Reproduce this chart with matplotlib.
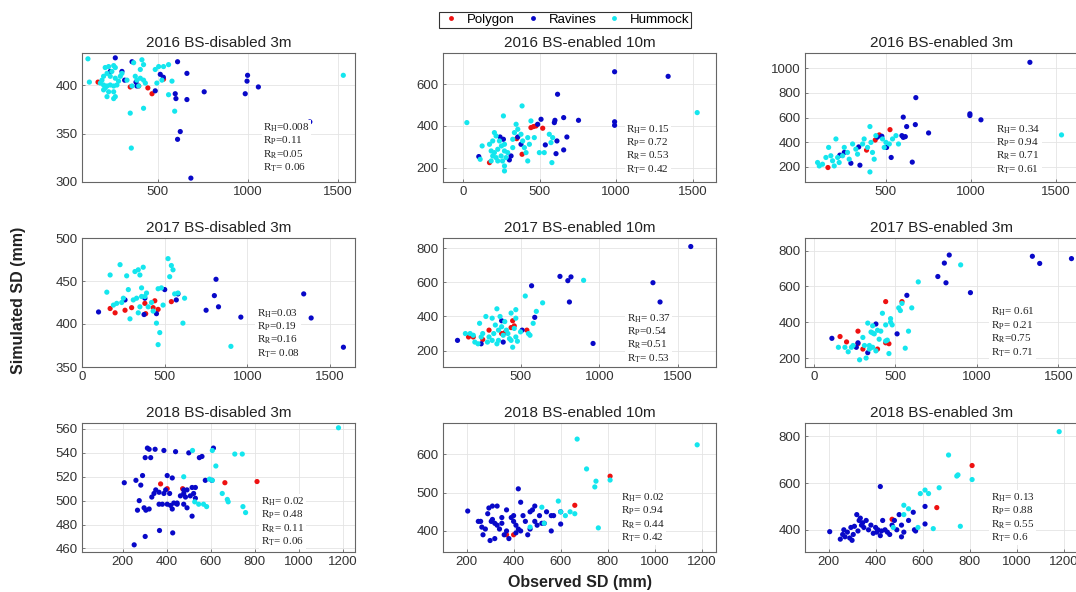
import numpy as np
import matplotlib
matplotlib.use('Agg')
import matplotlib.pyplot as plt
from matplotlib.lines import Line2D

plt.rcParams['font.family'] = ['Liberation Sans', 'DejaVu Sans']
plt.rcParams['mathtext.fontset'] = 'stix'

# ---- data: (observed, simulated) pairs per panel and class ----
# 2016 BS-disabled 3m
p16a_red = [(167, 403), (346, 398), (393, 399), (444, 397), (467, 391), (531, 406)]
p16a_blue = [(263, 428), (356, 424), (235, 414), (300, 414), (315, 405), (378, 403), (383, 399),
             (485, 394), (513, 411), (530, 408), (609, 424), (661, 412), (596, 391), (600, 386),
             (661, 385), (757, 393), (998, 410), (995, 404), (985, 391), (1058, 398), (624, 352),
             (609, 344), (683, 304), (1344, 362)]
p16a_cyan = [(111, 427), (119, 403), (207, 418), (226, 419), (254, 420), (263, 418), (244, 414),
             (217, 412), (198, 409), (189, 405), (180, 402), (198, 400), (217, 399), (235, 400),
             (254, 399), (272, 400), (281, 404), (263, 407), (235, 409), (207, 397), (198, 395),
             (226, 393), (254, 393), (263, 388), (254, 386), (217, 388), (291, 409), (300, 412),
             (328, 405), (374, 409), (383, 405), (402, 407), (420, 405), (430, 402), (393, 399),
             (356, 399), (346, 371), (420, 376), (411, 426), (420, 421), (402, 416), (365, 423),
             (485, 416), (504, 419), (531, 419), (559, 421), (494, 402), (522, 405), (578, 404),
             (559, 390), (593, 373), (352, 335), (1530, 410)]

# 2016 BS-enabled 10m
p16b_red = [(172, 224), (350, 339), (443, 392), (460, 397), (476, 400), (520, 389), (385, 264)]
p16b_blue = [(102, 253), (241, 347), (263, 336), (357, 347), (302, 237), (313, 256), (378, 312),
             (487, 408), (509, 432), (596, 416), (600, 427), (657, 440), (754, 427), (678, 347),
             (613, 328), (537, 309), (607, 267), (657, 285), (617, 552), (990, 420), (990, 403),
             (990, 660), (1340, 638)]
p16b_cyan = [(24, 416), (385, 496), (263, 448), (124, 304), (111, 240), (204, 368), (215, 352),
             (237, 328), (193, 328), (172, 312), (183, 280), (204, 272), (226, 288), (250, 304),
             (270, 312), (270, 280), (248, 256), (215, 248), (193, 256), (183, 232), (226, 232),
             (257, 232), (280, 248), (270, 208), (270, 184), (291, 272), (324, 296), (324, 336),
             (335, 368), (346, 408), (357, 384), (378, 360), (389, 328), (400, 296), (411, 272),
             (422, 232), (433, 312), (443, 424), (422, 344), (465, 344), (498, 272), (530, 272),
             (563, 360), (585, 344), (574, 320), (580, 224), (1530, 464)]

# 2016 BS-enabled 3m
p16c_red = [(159, 192), (386, 334), (437, 416), (461, 458), (524, 501)]
p16c_blue = [(1347, 1050), (676, 762), (602, 603), (673, 542), (622, 526), (594, 452), (602, 438),
             (614, 444), (751, 474), (994, 630), (994, 616), (1059, 581), (476, 447), (504, 356),
             (531, 274), (655, 236), (347, 211), (294, 227), (229, 293), (255, 315), (340, 360),
             (450, 440)]
p16c_cyan = [(98, 233), (108, 205), (147, 274), (176, 288), (186, 247), (196, 205), (216, 274),
             (225, 233), (245, 288), (255, 356), (274, 315), (284, 260), (304, 384), (323, 342),
             (333, 301), (363, 384), (372, 425), (392, 356), (412, 397), (421, 315), (431, 260),
             (441, 452), (480, 425), (500, 397), (520, 384), (539, 425), (559, 452), (574, 384),
             (490, 356), (406, 526), (406, 156), (206, 425), (163, 356), (127, 219), (1533, 458)]

# 2017 BS-disabled 3m
p17a_red = [(170, 418), (200, 413), (260, 416), (300, 419), (385, 412), (430, 419), (440, 427),
            (460, 417), (540, 426), (380, 424)]
p17a_blue = [(100, 414), (260, 428), (375, 411), (380, 430), (450, 412), (500, 440), (570, 428),
             (580, 435), (750, 416), (800, 433), (810, 452), (825, 420), (960, 408), (1340, 435),
             (1385, 407), (1580, 373)]
p17a_cyan = [(150, 437), (170, 457), (230, 469), (250, 430), (270, 456), (280, 440), (290, 406),
             (320, 461), (340, 463), (350, 457), (370, 466), (360, 442), (380, 432), (390, 436),
             (330, 430), (340, 413), (350, 420), (310, 428), (400, 420), (430, 415), (450, 401),
             (460, 441), (470, 390), (460, 376), (480, 442), (490, 422), (520, 476), (530, 455),
             (540, 468), (550, 463), (560, 435), (580, 436), (620, 430), (610, 401), (900, 374),
             (240, 425), (210, 424), (190, 422), (360, 432), (420, 425)]

# 2017 BS-enabled 10m
p17b_red = [(170, 280), (200, 280), (260, 265), (300, 320), (380, 300), (400, 305), (440, 335),
            (450, 375), (460, 345), (540, 320)]
p17b_blue = [(100, 260), (250, 240), (380, 375), (390, 250), (510, 320), (570, 580), (590, 395),
             (750, 635), (800, 610), (820, 632), (810, 485), (960, 242), (1340, 598), (1385, 485),
             (1580, 810)]
p17b_cyan = [(150, 300), (180, 300), (200, 290), (210, 250), (230, 240), (240, 360), (260, 300),
             (280, 400), (300, 280), (320, 390), (330, 300), (340, 350), (350, 445), (350, 240),
             (360, 260), (370, 400), (380, 340), (390, 290), (400, 370), (410, 320), (420, 300),
             (430, 270), (440, 420), (450, 220), (460, 330), (470, 440), (470, 390), (480, 255),
             (500, 310), (530, 520), (550, 300), (560, 290), (580, 360), (600, 430), (640, 480),
             (900, 612), (320, 260), (360, 320), (250, 280), (290, 250), (470, 280), (440, 260)]

# 2017 BS-enabled 3m
p17c_red = [(160, 320), (200, 290), (270, 350), (300, 250), (390, 250), (440, 285), (440, 515),
            (460, 280), (540, 515), (270, 280)]
p17c_blue = [(110, 310), (260, 260), (270, 285), (330, 230), (380, 390), (510, 335), (570, 550),
             (760, 655), (800, 730), (810, 620), (830, 775), (960, 565), (1340, 768), (1385, 728),
             (1580, 755)]
p17c_cyan = [(150, 260), (190, 260), (210, 235), (240, 270), (280, 190), (300, 315), (310, 270),
             (330, 395), (340, 250), (350, 345), (360, 260), (360, 380), (370, 335), (380, 240),
             (390, 355), (400, 305), (410, 350), (420, 450), (440, 385), (450, 300), (460, 225),
             (470, 400), (470, 420), (480, 385), (520, 480), (530, 465), (540, 505), (560, 255),
             (580, 350), (600, 480), (640, 625), (900, 720), (320, 200), (340, 270), (230, 260),
             (360, 340), (440, 295)]

# 2018 BS-disabled 3m
p18a_red = [(372, 514), (402, 510), (472, 510), (664, 515), (810, 516)]
p18a_blue = [(312, 544), (320, 543), (347, 543), (387, 542), (440, 541), (500, 540), (548, 536),
             (560, 537), (612, 544), (302, 536), (327, 536), (207, 515), (260, 517), (290, 521),
             (282, 513), (402, 521), (425, 519), (530, 511), (515, 511), (492, 509), (477, 509),
             (575, 517), (605, 517), (342, 506), (350, 509), (365, 507), (387, 506), (395, 509),
             (413, 506), (462, 504), (477, 506), (485, 503), (507, 504), (522, 506), (530, 502),
             (332, 503), (275, 500), (365, 497), (380, 497), (402, 497), (417, 496), (432, 498),
             (447, 497), (477, 497), (297, 494), (320, 493), (305, 492), (267, 492), (425, 493),
             (492, 494), (515, 487), (302, 470), (367, 475), (427, 473), (252, 463), (447, 498)]
p18a_cyan = [(517, 542), (607, 542), (709, 539), (743, 539), (623, 529), (477, 520), (594, 518),
             (607, 517), (652, 506), (675, 501), (679, 499), (527, 499), (545, 497), (567, 497),
             (581, 495), (746, 495), (758, 490), (1180, 561)]

# 2018 BS-enabled 10m
p18b_red = [(370, 390), (400, 390), (660, 467), (810, 543)]
p18b_blue = [(205, 452), (250, 425), (260, 425), (265, 410), (270, 390), (280, 405), (290, 445),
             (295, 460), (300, 375), (305, 425), (310, 430), (310, 465), (320, 420), (320, 380),
             (330, 465), (330, 415), (340, 405), (350, 435), (350, 420), (360, 390), (370, 455),
             (370, 400), (380, 380), (390, 435), (400, 425), (400, 440), (410, 415), (410, 395),
             (420, 510), (420, 405), (430, 475), (430, 400), (440, 440), (450, 425), (460, 390),
             (470, 450), (470, 405), (480, 455), (490, 465), (490, 425), (500, 415), (510, 440),
             (520, 420), (530, 420), (540, 450), (560, 440), (560, 400), (570, 440), (600, 450),
             (600, 418)]
p18b_cyan = [(470, 410), (520, 462), (530, 420), (590, 478), (600, 450), (620, 440), (640, 450),
             (660, 445), (670, 640), (710, 562), (745, 515), (750, 530), (760, 408), (810, 533),
             (1180, 625)]

# 2018 BS-enabled 3m
p18c_red = [(470, 445), (660, 495), (810, 675)]
p18c_blue = [(205, 392), (250, 360), (260, 380), (265, 400), (270, 370), (280, 390), (290, 365),
             (295, 410), (300, 355), (305, 380), (310, 415), (320, 465), (325, 395), (330, 440),
             (335, 450), (340, 420), (345, 430), (350, 410), (360, 440), (370, 400), (380, 420),
             (390, 385), (400, 410), (405, 390), (410, 400), (420, 585), (420, 375), (425, 395),
             (430, 440), (440, 400), (450, 390), (460, 380), (470, 420), (480, 440), (490, 400),
             (500, 465), (510, 370), (510, 420), (520, 390), (540, 440), (560, 475), (565, 400),
             (570, 395), (610, 425), (610, 500)]
p18c_cyan = [(475, 410), (520, 505), (520, 465), (540, 490), (580, 410), (590, 555), (610, 570),
             (625, 555), (645, 405), (670, 580), (710, 720), (745, 630), (750, 635), (760, 415),
             (810, 615), (1180, 820)]

titles = ['2016 BS-disabled 3m', '2016 BS-enabled 10m', '2016 BS-enabled 3m',
          '2017 BS-disabled 3m', '2017 BS-enabled 10m', '2017 BS-enabled 3m',
          '2018 BS-disabled 3m', '2018 BS-enabled 10m', '2018 BS-enabled 3m']
stats = [['=0.008', '=0.11', '=0.05', '= 0.06'],
         ['= 0.15', '= 0.72', '= 0.53', '= 0.42'],
         ['= 0.34', '= 0.94', '= 0.71', '= 0.61'],
         ['=0.03', '=0.19', '=0.16', '= 0.08'],
         ['= 0.37', '=0.54', '=0.51', '= 0.53'],
         ['= 0.61', '= 0.21', '=0.75', '= 0.71'],
         ['= 0.02', '= 0.48', '= 0.11', '= 0.06'],
         ['= 0.02', '= 0.94', '= 0.44', '= 0.42'],
         ['= 0.13', '= 0.88', '= 0.55', '= 0.6']]
subs = ['H', 'P', 'R', 'T']

panel_data = [(p16a_red, p16a_blue, p16a_cyan), (p16b_red, p16b_blue, p16b_cyan),
              (p16c_red, p16c_blue, p16c_cyan), (p17a_red, p17a_blue, p17a_cyan),
              (p17b_red, p17b_blue, p17b_cyan), (p17c_red, p17c_blue, p17c_cyan),
              (p18a_red, p18a_blue, p18a_cyan), (p18b_red, p18b_blue, p18b_cyan),
              (p18c_red, p18c_blue, p18c_cyan)]

# axis setup per panel
xlims = [(78, 1595), (-132, 1653), (24, 1630),
         (0, 1650), (8, 1740), (-55, 1620),
         (15, 1255), (100, 1260), (100, 1260)]
ylims = [(300, 433), (131, 750), (74, 1126),
         (350, 500), (104, 860), (150, 870),
         (457, 565), (345, 682), (305, 857)]
xticks = [[500, 1000, 1500], [0, 500, 1000, 1500], [500, 1000, 1500],
          [0, 500, 1000, 1500], [500, 1000, 1500], [0, 500, 1000, 1500],
          [200, 400, 600, 800, 1000, 1200]] + [[200, 400, 600, 800, 1000, 1200]] * 2
yticks = [[300, 350, 400], [200, 400, 600], [200, 400, 600, 800, 1000],
          [350, 400, 450, 500], [200, 400, 600, 800], [200, 400, 600, 800],
          [460, 480, 500, 520, 540, 560], [400, 500, 600], [400, 600, 800]]
text_pos = [(0.663, 0.47), (0.67, 0.457), (0.70, 0.457),
            (0.64, 0.465), (0.673, 0.426), (0.68, 0.473),
            (0.655, 0.44), (0.652, 0.47), (0.68, 0.47)]

colors = ['#ee1111', '#0808c8', '#14e6ee']
labels = ['Polygon', 'Ravines', 'Hummock']

fig = plt.figure(figsize=(10.76, 5.92), dpi=100)
lefts = [82, 443, 805]
tops = [53, 238, 423]
W, H = 273, 129

for i in range(9):
    r, c = divmod(i, 3)
    ax = fig.add_axes([lefts[c] / 1076, 1 - (tops[r] + H) / 592, W / 1076, H / 592])
    for pts, col in zip(panel_data[i], colors):
        a = np.array(pts, dtype=float)
        ax.scatter(a[:, 0], a[:, 1], s=14, c=col, edgecolors='none', zorder=3)
    ax.set_xlim(xlims[i])
    ax.set_ylim(ylims[i])
    ax.set_xticks(xticks[i])
    ax.set_yticks(yticks[i])
    ax.grid(True, color='#e4e4e4', linewidth=0.6)
    ax.set_axisbelow(True)
    ax.tick_params(direction='in', length=2.5, width=0.6, colors='#666666',
                   labelcolor='#333333', labelsize=9.5, pad=3)
    for sp in ax.spines.values():
        sp.set_color('#666666')
        sp.set_linewidth(0.8)
    ax.set_title(titles[i], fontsize=11, color='#222222', pad=4)
    txt = '\n'.join(r'R$_{\rm %s}$%s' % (s, v) for s, v in zip(subs, stats[i]))
    ax.text(text_pos[i][0], text_pos[i][1], txt, transform=ax.transAxes,
            ha='left', va='top', fontsize=8, family='Liberation Serif',
            linespacing=1.1, color='#222222', zorder=4,
            bbox=dict(facecolor='white', edgecolor='none', pad=1))

handles = [Line2D([], [], marker='o', linestyle='none', markersize=3.5,
                  markerfacecolor=col, markeredgecolor='none') for col in colors]
leg = fig.legend(handles, labels, loc='center', bbox_to_anchor=(565 / 1076, 1 - 20 / 592),
                 ncol=3, fontsize=9.5, frameon=True, fancybox=False, borderpad=0.15,
                 handletextpad=0.4, columnspacing=0.55, handlelength=1.6)
leg.get_frame().set_edgecolor('black')
leg.get_frame().set_linewidth(0.8)

fig.text(19 / 1076, 1 - 300 / 592, 'Simulated SD (mm)', rotation=90, ha='center', va='center',
         fontsize=11.5, fontweight='bold', color='#222222')
fig.text(580 / 1076, 1 - 583 / 592, 'Observed SD (mm)', ha='center', va='center',
         fontsize=11.5, fontweight='bold', color='#222222')

fig.savefig('out.png', dpi=100)
